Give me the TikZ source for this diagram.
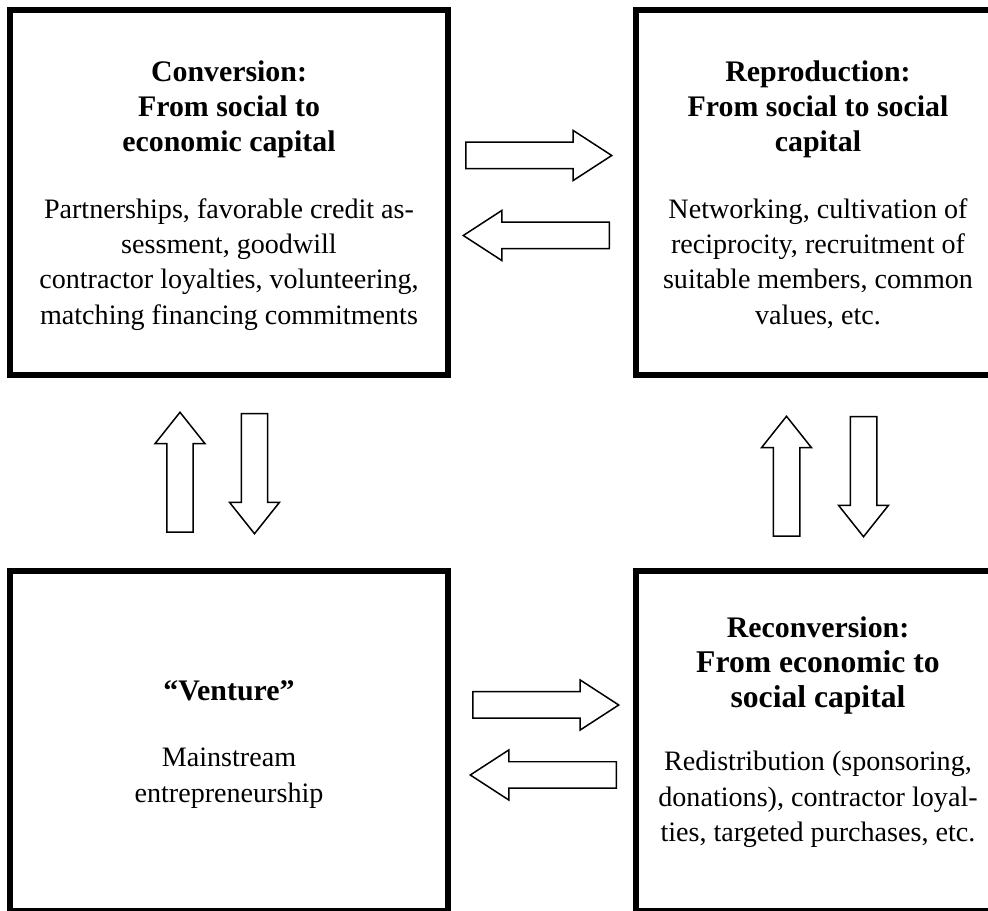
\documentclass[tikz,border=0pt]{standalone}
\usepackage{fontspec}
\setmainfont{Liberation Serif}
\usetikzlibrary{positioning,shapes.arrows}

\newcommand{\titlefont}{\fontsize{17}{20}\selectfont\bfseries}
\newcommand{\bigtitlefont}{\fontsize{18}{20}\selectfont\bfseries}

\begin{document}
\begin{tikzpicture}[x=0.02cm, y=-0.02cm]
  \tikzstyle{box} = [rectangle, draw=black, line width=0.12cm, align=center, minimum height=7.3cm, font=\fontsize{16}{20}\selectfont]
  \tikzstyle{wide} = [minimum width=8.76cm]
  \tikzstyle{narrow} = [minimum width=7.28cm]
  \tikzstyle{low} = [minimum height=6.81cm]
  \tikzstyle{flow} = [single arrow, draw=black, fill=white, line width=0.03cm, inner xsep=0pt, inner ysep=0.25cm, single arrow head extend=0.235cm, anchor=tail]
  \tikzstyle{hflow} = [flow, minimum height=2.92cm, single arrow tip angle=66]
  \tikzstyle{vflow} = [flow, minimum height=2.4cm, single arrow tip angle=77]

  \path[use as bounding box, clip] (0,0) rectangle (988,911);

  % the four boxes
  \node (conv) [box, wide, text depth=-1.5pt] at (229,192.5) {{\titlefont Conversion:}\\
    {\titlefont From social to}\\
    {\titlefont economic capital}\\[18pt]
    Partnerships, favorable credit as-\\
    sessment, goodwill\\
    contractor loyalties, volunteering,\\
    matching financing commitments};
  \node (repro) [box, narrow, text depth=-3pt] at (818,192.5) {{\titlefont Reproduction:}\\
    {\titlefont From social to social}\\
    {\titlefont capital}\\[18pt]
    Networking, cultivation of\\
    reciprocity, recruitment of\\
    suitable members, common\\
    values, etc.};
  \node (venture) [box, wide, low, text depth=-1.5pt] at (229,741.25) {{\titlefont “Venture”}\\[18pt]
    Mainstream\\
    entrepreneurship};
  \node (reconv) [box, narrow, low, text depth=14pt] at (818,741.25) {{\titlefont Reconversion:}\\
    {\bigtitlefont From economic to}\\
    {\bigtitlefont social capital}\\[16pt]
    Redistribution (sponsoring,\\
    donations), contractor loyal-\\
    ties, targeted purchases, etc.};

  % block arrows between the boxes
  \node (conv2repro) [hflow] at (465,155.5) {};
  \node (repro2conv) [hflow, rotate=180] at (610,235.5) {};
  \node (venture2reconv) [hflow] at (472,705) {};
  \node (reconv2venture) [hflow, rotate=180] at (617,775) {};

  \node (venture2conv) [vflow, rotate=90] at (180,533) {};
  \node (conv2venture) [vflow, rotate=-90] at (254.5,413) {};
  \node (reconv2repro) [vflow, rotate=90] at (786.5,537) {};
  \node (repro2reconv) [vflow, rotate=-90] at (863.5,416) {};
\end{tikzpicture}
\end{document}
